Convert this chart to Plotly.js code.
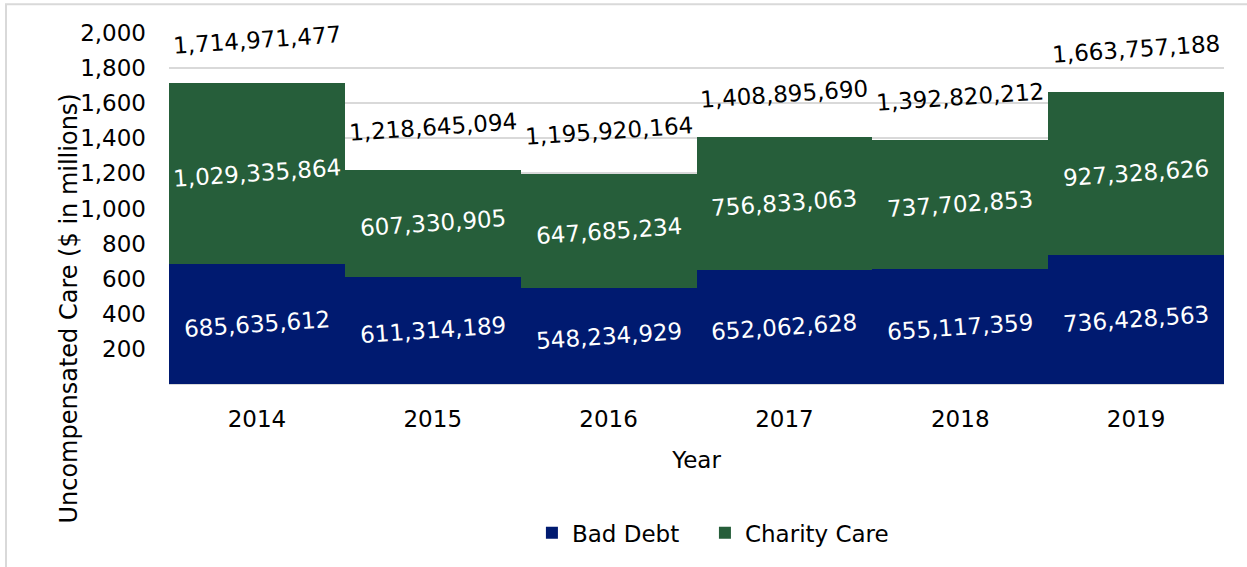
<!DOCTYPE html>
<html>
<head>
<meta charset="utf-8">
<script src="https://cdn.plot.ly/plotly-3.0.1.min.js"></script>
<style>
  html, body { margin: 0; padding: 0; background: #ffffff; }
  #chart { width: 1247px; height: 567px; }
</style>
</head>
<body>
<div id="chart"></div>
<script>
// ---- data (dollars) ----
const years = ['2014', '2015', '2016', '2017', '2018', '2019'];
const badDebt = [685635612, 611314189, 548234929, 652062628, 655117359, 736428563];
const charityCare = [1029335864, 607330905, 647685234, 756833063, 737702853, 927328626];
const totals = [1714971477, 1218645094, 1195920164, 1408895690, 1392820212, 1663757188];
const yTicks = [200, 400, 600, 800, 1000, 1200, 1400, 1600, 1800, 2000];

const fmt = v => v.toLocaleString('en-US');
const toM = v => v / 1e6;

const NAVY = '#001A70';
const GREEN = '#265E3A';
const FONT = 'DejaVu Sans, sans-serif';
const FS = 23;

const traces = [
  {
    type: 'bar', name: 'Bad Debt', x: years, y: badDebt.map(toM),
    marker: { color: NAVY }, hoverinfo: 'skip', legend: 'legend'
  },
  {
    type: 'bar', name: 'Charity Care', x: years, y: charityCare.map(toM),
    marker: { color: GREEN }, hoverinfo: 'skip', legend: 'legend2'
  }
];

const annotations = [];
years.forEach((yr, i) => {
  annotations.push({
    x: i, y: toM(badDebt[i]) / 2, xref: 'x', yref: 'y',
    text: fmt(badDebt[i]), showarrow: false, textangle: -4,
    font: { family: FONT, size: FS, color: '#ffffff' }
  });
  annotations.push({
    x: i, y: toM(badDebt[i]) + toM(charityCare[i]) / 2, xref: 'x', yref: 'y',
    text: fmt(charityCare[i]), showarrow: false, textangle: -4,
    font: { family: FONT, size: FS, color: '#ffffff' }
  });
  annotations.push({
    x: i, y: toM(totals[i]), xref: 'x', yref: 'y', yshift: 43,
    text: fmt(totals[i]), showarrow: false, textangle: -4,
    font: { family: FONT, size: FS, color: '#000000' }
  });
});
annotations.push({
  x: -0.0957, y: 0.215, xref: 'paper', yref: 'paper',
  text: 'Uncompensated Care ($ in millions)', showarrow: false, textangle: -90,
  xanchor: 'center', yanchor: 'middle',
  font: { family: FONT, size: 24, color: '#000000' }
});

const legendBase = {
  orientation: 'h', xanchor: 'left', y: -0.424, yanchor: 'middle',
  font: { family: FONT, size: FS, color: '#000000' }, itemwidth: 30
};

const layout = {
  width: 1247, height: 567,
  margin: { l: 169, r: 23, t: 33, b: 180 },
  paper_bgcolor: '#ffffff', plot_bgcolor: '#ffffff',
  barmode: 'stack', bargap: 0,
  font: { family: FONT, size: FS, color: '#000000' },
  showlegend: true,
  legend: Object.assign({}, legendBase, { x: 0.344 }),
  legend2: Object.assign({}, legendBase, { x: 0.508 }),
  xaxis: {
    type: 'category', range: [-0.5, years.length - 0.5], showgrid: false, ticks: '', showline: true,
    linecolor: '#d9d9d9', linewidth: 1, ticklabelstandoff: 14,
    tickfont: { family: FONT, size: FS, color: '#000000' },
    title: { text: 'Year', standoff: 21, font: { family: FONT, size: FS, color: '#000000' } }
  },
  yaxis: {
    range: [0, 2000], tickvals: yTicks, tickformat: ',', ticks: '',
    showgrid: true, gridcolor: '#d9d9d9', gridwidth: 2, zeroline: false,
    showline: false, ticklabelstandoff: 22,
    tickfont: { family: FONT, size: FS, color: '#000000' }
  },
  shapes: [{
    type: 'rect', xref: 'paper', yref: 'paper', layer: 'below',
    x0: -0.1545, x1: 1.2, y0: -1, y1: 1.082,
    line: { color: '#d9d9d9', width: 2 }, fillcolor: 'rgba(0,0,0,0)'
  }],
  annotations: annotations
};

Plotly.newPlot('chart', traces, layout, { displayModeBar: false, staticPlot: true });
</script>
</body>
</html>
